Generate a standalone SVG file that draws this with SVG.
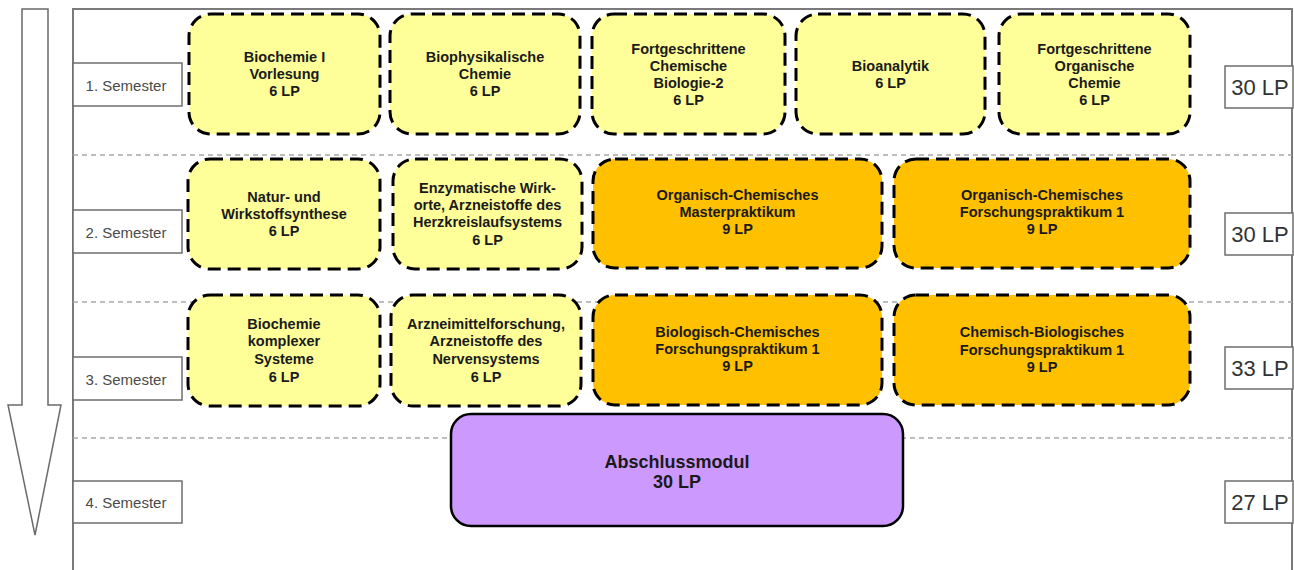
<svg xmlns="http://www.w3.org/2000/svg" width="1294" height="570" viewBox="0 0 1294 570">
<style>
.frame{fill:none;stroke:#7a7a7a;stroke-width:2}
.sep{stroke:#a8a8a8;stroke-width:1.5;stroke-dasharray:5,4}
.sem rect{fill:#fff;stroke:#6e6e6e;stroke-width:1.5}
.sem text{font-family:"Liberation Sans",Arial,sans-serif;font-size:15px;fill:#4a4a4a;text-anchor:middle;dominant-baseline:central}
.lp rect{fill:#fff;stroke:#6e6e6e;stroke-width:1.5}
.lp text{font-family:"Liberation Sans",Arial,sans-serif;font-size:22px;fill:#333;text-anchor:middle;dominant-baseline:central}
.mod rect{stroke:#000;stroke-width:3;stroke-dasharray:13,7}
.y rect{fill:#ffff99}
.o rect{fill:#ffc000}
.mod text,.fin text{font-family:"Liberation Sans",Arial,sans-serif;font-weight:bold;font-size:14.5px;fill:#1a1a1a;text-anchor:middle;dominant-baseline:central}
.fin rect{fill:#cc99ff;stroke:#000;stroke-width:2.5}
.fin text{font-size:18px}
</style>
<g id="arrow"><polygon points="22,9 48,9 48,405 61,405 35,535 8,405 22,405" fill="#fff" stroke="#6a6a6a" stroke-width="1.5"/></g>
<g id="frame"><polyline class="frame" points="73,570 73,9 1292,9 1292,570"/></g>
<g id="separators">
<line class="sep" x1="73" y1="155" x2="1292" y2="155"/>
<line class="sep" x1="73" y1="302" x2="1292" y2="302"/>
<line class="sep" x1="73" y1="438" x2="1292" y2="438"/>
</g>
<g id="sem1" class="sem"><rect x="73" y="63" width="109" height="43"/><text x="126" y="85">1. Semester</text></g>
<g id="sem2" class="sem"><rect x="73" y="210" width="109" height="43"/><text x="126" y="232">2. Semester</text></g>
<g id="sem3" class="sem"><rect x="73" y="357" width="109" height="43"/><text x="126" y="379">3. Semester</text></g>
<g id="sem4" class="sem"><rect x="73" y="481" width="109" height="42"/><text x="126" y="502">4. Semester</text></g>
<g id="lp1" class="lp"><rect x="1225" y="66" width="68" height="42"/><text x="1260" y="87">30 LP</text></g>
<g id="lp2" class="lp"><rect x="1225" y="213" width="68" height="42"/><text x="1260" y="234">30 LP</text></g>
<g id="lp3" class="lp"><rect x="1225" y="347" width="68" height="42"/><text x="1260" y="368">33 LP</text></g>
<g id="lp4" class="lp"><rect x="1225" y="481" width="68" height="42"/><text x="1260" y="502">27 LP</text></g>
<g id="n-biochemie1" class="mod y"><rect x="189" y="14" width="191" height="120" rx="22"/><text x="284.5" y="57">Biochemie I</text><text x="284.5" y="74">Vorlesung</text><text x="284.5" y="91">6 LP</text></g>
<g id="n-biophys" class="mod y"><rect x="390" y="14" width="190" height="120" rx="22"/><text x="485" y="57">Biophysikalische</text><text x="485" y="74">Chemie</text><text x="485" y="91">6 LP</text></g>
<g id="n-fcb2" class="mod y"><rect x="592" y="14" width="193" height="120" rx="22"/><text x="688.5" y="49">Fortgeschrittene</text><text x="688.5" y="66">Chemische</text><text x="688.5" y="83">Biologie-2</text><text x="688.5" y="100">6 LP</text></g>
<g id="n-bioanalytik" class="mod y"><rect x="796" y="14" width="189" height="120" rx="22"/><text x="890.5" y="66">Bioanalytik</text><text x="890.5" y="83">6 LP</text></g>
<g id="n-foc" class="mod y"><rect x="999" y="14" width="191" height="120" rx="22"/><text x="1094.5" y="49">Fortgeschrittene</text><text x="1094.5" y="66">Organische</text><text x="1094.5" y="83">Chemie</text><text x="1094.5" y="100">6 LP</text></g>
<g id="n-natur" class="mod y"><rect x="188" y="159" width="192" height="110" rx="22"/><text x="284" y="197">Natur- und</text><text x="284" y="214">Wirkstoffsynthese</text><text x="284" y="231">6 LP</text></g>
<g id="n-enzym" class="mod y"><rect x="393" y="159" width="189" height="110" rx="22"/><text x="487.5" y="188">Enzymatische Wirk-</text><text x="487.5" y="205">orte, Arzneistoffe des</text><text x="487.5" y="222">Herzkreislaufsystems</text><text x="487.5" y="240">6 LP</text></g>
<g id="n-ocmaster" class="mod o"><rect x="593" y="159" width="289" height="109" rx="22"/><text x="737.5" y="195">Organisch-Chemisches</text><text x="737.5" y="212">Masterpraktikum</text><text x="737.5" y="229">9 LP</text></g>
<g id="n-ocfp1" class="mod o"><rect x="894" y="159" width="296" height="109" rx="22"/><text x="1042" y="195">Organisch-Chemisches</text><text x="1042" y="212">Forschungspraktikum 1</text><text x="1042" y="229">9 LP</text></g>
<g id="n-bks" class="mod y"><rect x="188" y="295" width="192" height="111" rx="22"/><text x="284" y="324">Biochemie</text><text x="284" y="341">komplexer</text><text x="284" y="359">Systeme</text><text x="284" y="377">6 LP</text></g>
<g id="n-arzneimittel" class="mod y"><rect x="391" y="295" width="190" height="111" rx="22"/><text x="486" y="324">Arzneimittelforschung,</text><text x="486" y="341">Arzneistoffe des</text><text x="486" y="359">Nervensystems</text><text x="486" y="377">6 LP</text></g>
<g id="n-bcfp1" class="mod o"><rect x="593" y="295" width="289" height="110" rx="22"/><text x="737.5" y="332">Biologisch-Chemisches</text><text x="737.5" y="349">Forschungspraktikum 1</text><text x="737.5" y="366">9 LP</text></g>
<g id="n-cbfp1" class="mod o"><rect x="894" y="295" width="296" height="110" rx="22"/><text x="1042" y="332">Chemisch-Biologisches</text><text x="1042" y="350">Forschungspraktikum 1</text><text x="1042" y="367">9 LP</text></g>
<g id="n-abschluss" class="fin"><rect x="451" y="414" width="452" height="112" rx="20"/><text x="677" y="462">Abschlussmodul</text><text x="677" y="482">30 LP</text></g>
</svg>
